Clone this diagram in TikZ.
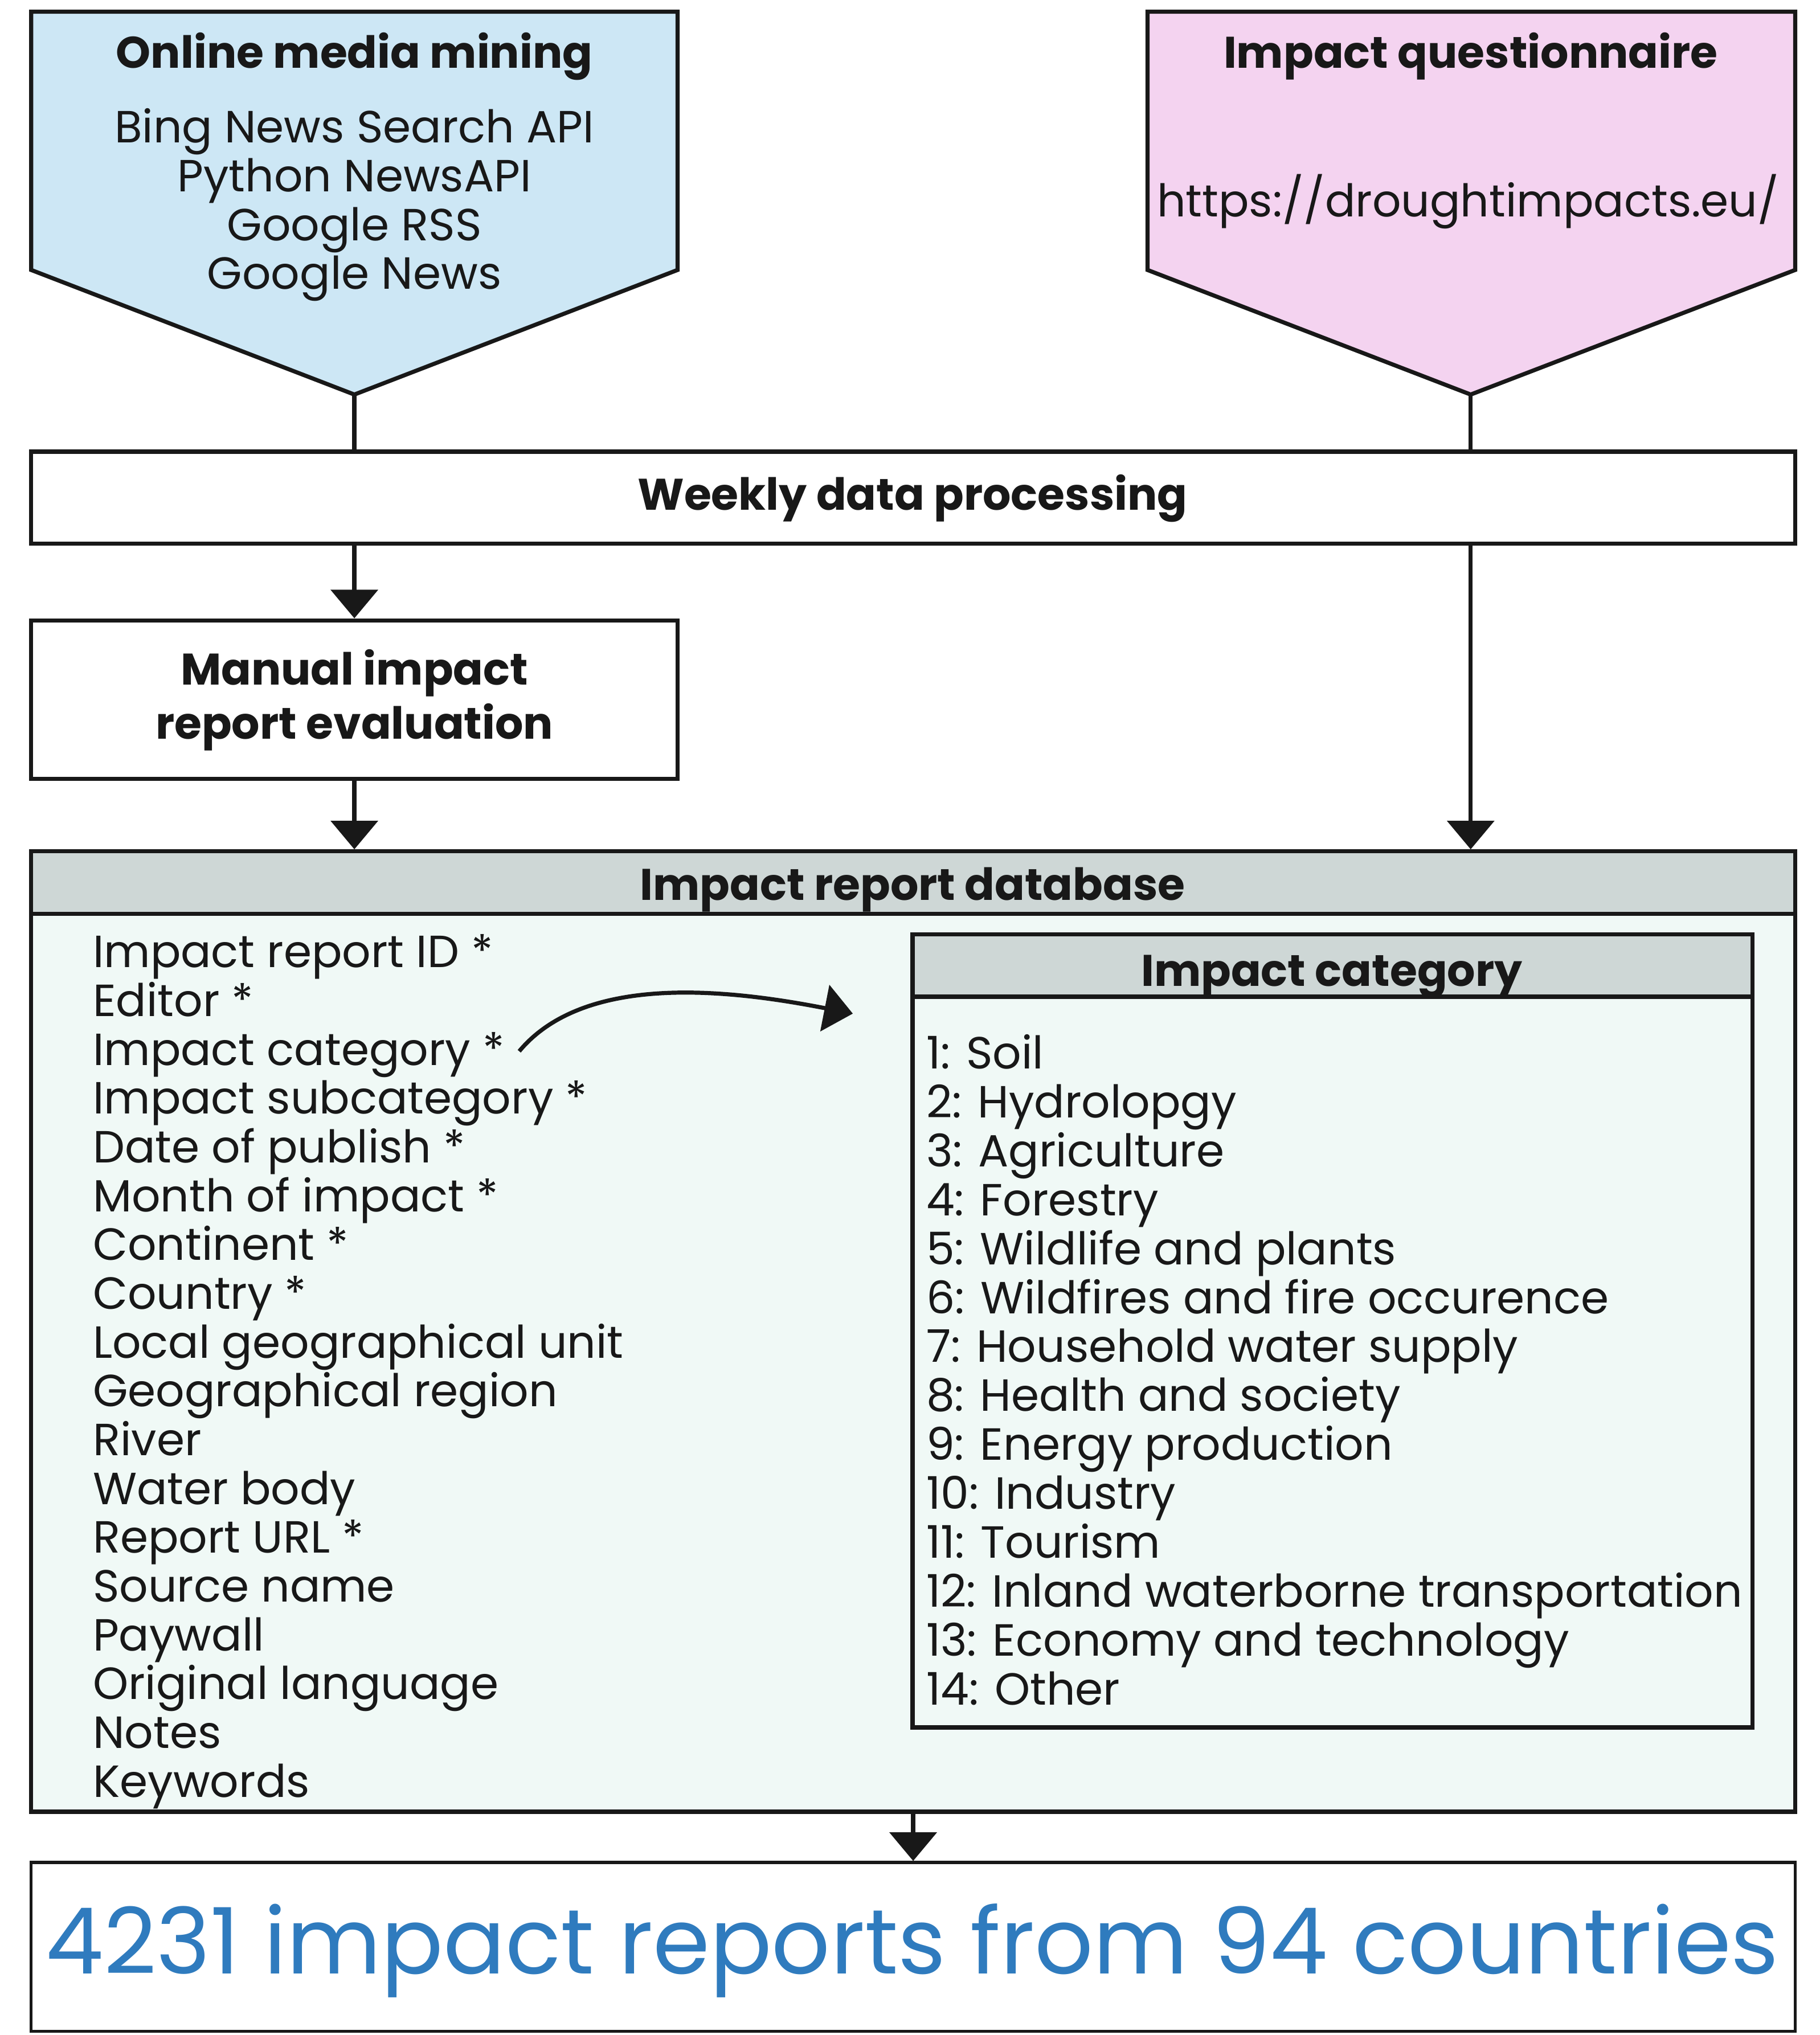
\documentclass[tikz,border=0pt]{standalone}
\usepackage{fontspec}
\setmainfont{Poppins}
\usetikzlibrary{arrows.meta,fit,positioning}
\definecolor{mineblue}{HTML}{CDE7F5}
\definecolor{questpink}{HTML}{F4D3F0}
\definecolor{headgray}{HTML}{CED7D6}
\definecolor{dbmint}{HTML}{F0F9F6}
\definecolor{countblue}{HTML}{2F7BBE}
\definecolor{ink}{HTML}{181818}
\begin{document}
\begin{tikzpicture}[x=0.2mm,y=-0.2mm,color=ink,line width=1.8pt,line join=miter,
    box/.style={draw,inner sep=0pt},
    head/.style={inner sep=0pt,anchor=base,font=\bfseries\fontsize{19.4}{23.8}\selectfont},
    item/.style={inner sep=0pt,font=\fontsize{19.75}{21.4}\selectfont},
    arr/.style={-{Triangle[width=7.2mm,length=4.4mm]}}]
  \useasboundingbox (0,0) rectangle (1402,1568);

  \filldraw[fill=mineblue] (24,9) -- (522,9) -- (522,208) -- (273,304) -- (24,208) -- cycle;
  \coordinate (mtip) at (273,304);
  \node[head] (mhead) at (273,52.6) {Online media mining};
  \foreach \src [count=\i] in {Bing News Search API,Python NewsAPI,Google RSS,Google News}
    \node[item,anchor=base] (src\i) at (273,72.4+37.6*\i) {\src};

  \filldraw[fill=questpink] (884,9) -- (1383,9) -- (1383,208) -- (1133,304) -- (884,208) -- cycle;
  \coordinate (qtip) at (1133,304);
  \node[head] (qhead) at (1133,52.6) {Impact questionnaire};
  \node[item,anchor=base] (url) at (1131,166.8) {https://droughtimpacts.eu/};

  \node[box,fit={(24,348) (1383,419)}] (weekly) {};
  \node[head] (weeklytxt) at (703,393) {Weekly data processing};
  \node[box,fit={(24,478) (522,600)}] (manual) {};
  \node[head] (manual1) at (273,527.5) {Manual impact};
  \node[head] (manual2) at (273,569.5) {report evaluation};

  \node[box,fill=dbmint,fit={(24,656) (1383,1396)}] (db) {};
  \node[box,fill=headgray,fit={(24,656) (1383,704)}] (dbhead) {};
  \node[head] (dbtxt) at (703,693.5) {Impact report database};
  \node[box,fill=dbmint,fit={(703,720) (1350,1331)}] (cat) {};
  \node[box,fill=headgray,fit={(703,720) (1350,768)}] (cathead) {};
  \node[head] (cattxt) at (1026,760) {Impact category};

  \foreach \fld [count=\i] in {Impact report ID *,Editor *,Impact category *,
      Impact subcategory *,Date of publish *,Month of impact *,Continent *,Country *,
      Local geographical unit,Geographical region,River,Water body,Report URL *,
      Source name,Paywall,Original language,Notes,Keywords}
    \node[item,anchor=base west] (f\i) at (70,707.9+37.6*\i) {\fld};

  \foreach \ctg [count=\i] in {1: Soil,2: Hydrolopgy,3: Agriculture,4: Forestry,
      5: Wildlife and plants,6: Wildfires and fire occurence,7: Household water supply,
      8: Health and society,9: Energy production,10: Industry,11: Tourism,
      12: Inland waterborne transportation,13: Economy and technology,14: Other}
    \node[item,anchor=base west] (c\i) at (712,785.8+37.7*\i) {\ctg};

  \node[box,line width=1.3pt,fit={(24,1435) (1383,1565)}] (count) {};
  \node[inner sep=0pt,anchor=base,text=countblue,font=\fontsize{40.2}{46}\selectfont]
    (counttxt) at (703,1520.7) {4231 impact reports from 94 countries};

  \draw (mtip) -- (weekly.north -| mtip);
  \draw (qtip) -- (weekly.north -| qtip);
  \draw[arr] (weekly.south -| manual.north) -- (manual.north);
  \draw[arr] (manual.south) -- (db.north -| manual.south);
  \draw[arr] (weekly.south -| qtip) -- (db.north -| qtip);
  \draw[arr] (db.south) -- (count.north);

  \coordinate (catfrom) at (400,810);
  \coordinate (catto) at (657,781);
  \draw[arr] (catfrom) .. controls (450,750) and (560,762) .. (catto);
\end{tikzpicture}
\end{document}
